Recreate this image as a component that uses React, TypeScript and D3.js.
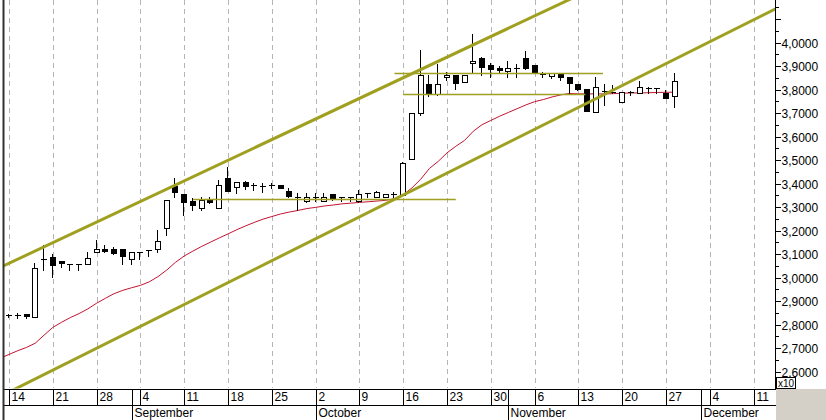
import React from "react";
import * as d3 from "d3";

// ---- data (trading days from Mon 14 Aug 2006) ----
const openP = [2.843,2.841,2.844,2.834,3.078,3.089,3.071,3.060,3.057,3.057,3.108,3.121,3.121,3.121,3.078,3.109,3.116,3.122,3.210,3.392,3.356,3.326,3.295,3.332,3.295,3.423,3.387,3.406,3.395,3.392,3.395,3.395,3.370,3.345,3.328,3.345,3.328,3.355,3.345,3.345,3.328,3.362,3.343,3.345,3.355,3.352,3.504,3.700,3.824,3.780,3.853,3.863,3.832,3.912,3.934,3.905,3.894,3.880,3.894,3.934,3.905,3.868,3.860,3.872,3.853,3.824,3.802,3.706,3.793,3.792,3.749,3.791,3.787,3.809,3.806,3.787,3.773];
const highP = [2.846,2.850,2.845,3.061,3.139,3.101,3.071,3.060,3.058,3.108,3.160,3.139,3.132,3.122,3.109,3.109,3.116,3.202,3.332,3.423,3.356,3.341,3.342,3.342,3.416,3.472,3.406,3.413,3.404,3.402,3.404,3.395,3.380,3.362,3.362,3.359,3.359,3.355,3.345,3.345,3.373,3.362,3.370,3.358,3.363,3.494,3.700,3.969,3.863,3.908,3.874,3.863,3.863,4.037,3.940,3.912,3.902,3.922,3.908,3.965,3.905,3.877,3.872,3.872,3.853,3.824,3.802,3.855,3.826,3.818,3.788,3.796,3.839,3.810,3.807,3.799,3.873];
const lowP = [2.833,2.829,2.827,2.834,3.033,3.002,3.047,3.033,3.033,3.057,3.108,3.109,3.100,3.057,3.057,3.078,3.092,3.111,3.182,3.345,3.267,3.288,3.289,3.319,3.295,3.369,3.359,3.376,3.373,3.366,3.380,3.380,3.342,3.289,3.323,3.328,3.328,3.331,3.326,3.327,3.323,3.345,3.343,3.342,3.342,3.352,3.504,3.692,3.773,3.778,3.841,3.803,3.832,3.874,3.863,3.853,3.877,3.855,3.855,3.887,3.877,3.855,3.850,3.841,3.787,3.799,3.711,3.706,3.735,3.785,3.749,3.776,3.787,3.785,3.786,3.763,3.726];
const closeP = [2.841,2.840,2.837,3.040,3.081,3.054,3.061,3.055,3.054,3.085,3.121,3.112,3.104,3.092,3.108,3.105,3.112,3.156,3.332,3.366,3.323,3.309,3.331,3.322,3.395,3.369,3.406,3.390,3.392,3.390,3.392,3.380,3.348,3.338,3.345,3.338,3.345,3.338,3.338,3.338,3.355,3.355,3.363,3.358,3.357,3.487,3.700,3.863,3.782,3.824,3.863,3.827,3.863,3.923,3.895,3.887,3.884,3.894,3.887,3.894,3.877,3.866,3.872,3.855,3.827,3.802,3.711,3.810,3.790,3.789,3.788,3.790,3.810,3.809,3.804,3.763,3.838];
// moving average, first value belongs to the day before the first candle
const maP = [2.657,2.673,2.689,2.703,2.721,2.755,2.788,2.810,2.830,2.847,2.867,2.891,2.912,2.932,2.946,2.957,2.967,2.982,3.004,3.032,3.065,3.092,3.113,3.133,3.151,3.169,3.186,3.204,3.220,3.235,3.249,3.260,3.271,3.279,3.286,3.294,3.299,3.305,3.309,3.314,3.317,3.320,3.323,3.326,3.329,3.336,3.353,3.382,3.419,3.465,3.495,3.531,3.559,3.584,3.623,3.651,3.669,3.687,3.703,3.719,3.735,3.749,3.758,3.769,3.778,3.784,3.782,3.782,3.782,3.782,3.783,3.785,3.786,3.786,3.787,3.788,3.789,3.789];
// horizontal support / resistance lines (day index from, to, price)
const levelFrom = [21, 44, 45];
const levelTo = [51, 67.8, 65.8];
const levelPrice = [3.3336, 3.8723, 3.7804];
// trend channel lines: two anchor points each (day index, price)
const channelDays = [[0, 60], [0, 60]];
const channelPrices = [[3.061, 4.114], [2.513, 3.6313]];
const TOTAL_DAYS = 89;

function tradingDays(n: number): Date[] {
  const out: Date[] = [];
  const d = new Date(2006, 7, 14);
  while (out.length < n) {
    const wd = d.getDay();
    if (wd !== 0 && wd !== 6) out.push(new Date(d));
    d.setDate(d.getDate() + 1);
  }
  return out;
}

const W = 826, H = 420;
const PL = 4, PR = 776, PT = 0, PB = 388.5;
const OLIVE = "#a0a020";
const RED = "#c41230";
const FONT = "'Liberation Sans', Arial, sans-serif";

export default function App() {
  const days = tradingDays(TOTAL_DAYS);
  const x = d3.scaleLinear().domain([-0.571, 87.44]).range([PL, PR - 1]);
  const y = d3.scaleLinear().domain([2.5302, 4.1817]).range([388, 0]);
  const cx = (i: number) => Math.round(x(i));

  const weekTicks = days.map((d, i) => ({ d, i })).filter(o => o.d.getDay() === 1);
  const monthStarts = days
    .map((d, i) => ({ d, i }))
    .filter(o => o.i > 0 && o.d.getMonth() !== days[o.i - 1].getMonth());
  const fmtMonth = d3.timeFormat("%B");

  const maLine = d3.line<number>().x((_, k) => x(k - 1)).y(v => y(v))(maP) || "";

  const ticks = d3.range(51, 84).map(k => ({ k, v: k * 0.05 }));
  const fmt = (v: number) => d3.format(".4f")(v).replace(".", ",");

  return (
    <div style={{ position: "fixed", left: 0, top: 0, width: W, height: H, background: "#fff" }}>
      <svg width={W} height={H} style={{ display: "block" }}>
        <defs>
          <clipPath id="plot">
            <rect x={PL} y={PT} width={PR - PL} height={PB - PT} />
          </clipPath>
        </defs>
        <rect x={0} y={0} width={W} height={H} fill="#fff" />
        {/* grid */}
        {weekTicks.map(o => (
          <line key={"g" + o.i} x1={cx(o.i) + 0.5} x2={cx(o.i) + 0.5} y1={0} y2={388}
            stroke="#b4b4b4" strokeDasharray="5,4" />
        ))}
        <g clipPath="url(#plot)">
          <path d={maLine} fill="none" stroke={RED} strokeWidth={1} />
          {openP.map((o, i) => {
            const c = closeP[i];
            const X = cx(i);
            const yO = y(o), yC = y(c), yH = y(highP[i]), yL = y(lowP[i]);
            const top = Math.round(Math.min(yO, yC)), bot = Math.round(Math.max(yO, yC));
            const up = c >= o;
            return (
              <g key={"c" + i}>
                <line x1={X - 0.5} x2={X - 0.5} y1={Math.round(yH)} y2={Math.round(yL) + 1} stroke="#000" />
                {bot - top < 2 ? (
                  <line x1={X - 3} x2={X + 3} y1={top + 0.5} y2={top + 0.5} stroke="#000" />
                ) : (
                  <rect x={X - 2.5} y={top + 0.5} width={5} height={bot - top}
                    fill={up ? "#fff" : "#000"} stroke="#000" />
                )}
              </g>
            );
          })}
          {levelPrice.map((v, k) => (
            <line key={"h" + k} x1={x(levelFrom[k])} x2={x(levelTo[k])}
              y1={Math.round(y(v)) + 0.5} y2={Math.round(y(v)) + 0.5} stroke={OLIVE} strokeWidth={1.3} />
          ))}
          {channelDays.map((ds, k) => {
            const ps = channelPrices[k];
            const slope = (ps[1] - ps[0]) / (ds[1] - ds[0]);
            const a = -2, b = 90;
            return (
              <line key={"ch" + k} x1={x(a)} y1={y(ps[0] + slope * (a - ds[0]))}
                x2={x(b)} y2={y(ps[0] + slope * (b - ds[0]))} stroke={OLIVE} strokeWidth={3} />
            );
          })}
        </g>
        {/* right axis */}
        <line x1={PR - 0.5} x2={PR - 0.5} y1={0} y2={389} stroke="#000" />
        {ticks.map(t => {
          const ty = Math.round(y(t.v)) + 0.5;
          const major = t.k % 2 === 0;
          return (
            <g key={"t" + t.k}>
              <line x1={PR} x2={PR + (major ? 5 : 3)} y1={ty} y2={ty} stroke="#000" />
              {major && t.v > 2.58 && t.v < 4.02 && (
                <text x={PR + 5.5} y={ty + 4.5} fontFamily={FONT} fontSize={12} fill="#000">{fmt(t.v)}</text>
              )}
            </g>
          );
        })}
        <rect x={776.5} y={377.5} width={19} height={11} fill="#fff" stroke="#000" />
        <text x={778} y={386.5} fontFamily={FONT} fontSize={10} fill="#000">x10</text>
        {/* date axis */}
        <line x1={PL} x2={PR} y1={389.5} y2={389.5} stroke="#000" />
        <line x1={PL} x2={PR} y1={405.5} y2={405.5} stroke="#000" />
        {weekTicks.map(o => (
          <g key={"w" + o.i}>
            <line x1={cx(o.i) + 0.5} x2={cx(o.i) + 0.5} y1={389} y2={405} stroke="#000" />
            <text x={cx(o.i) + 2.5} y={401} fontFamily={FONT} fontSize={12} fill="#000">{o.d.getDate()}</text>
          </g>
        ))}
        {monthStarts.map(o => (
          <g key={"m" + o.i}>
            <line x1={cx(o.i) + 0.5} x2={cx(o.i) + 0.5} y1={389} y2={420} stroke="#000" />
            <text x={cx(o.i) + 2.5} y={417} fontFamily={FONT} fontSize={12} fill="#000">{fmtMonth(o.d)}</text>
          </g>
        ))}
        <rect x={PR} y={389} width={W - PR} height={H - 389} fill="#d4d0c8" />
        <line x1={PL - 0.5} x2={PL - 0.5} y1={0} y2={H} stroke="#333" strokeWidth={2} />
      </svg>
    </div>
  );
}
